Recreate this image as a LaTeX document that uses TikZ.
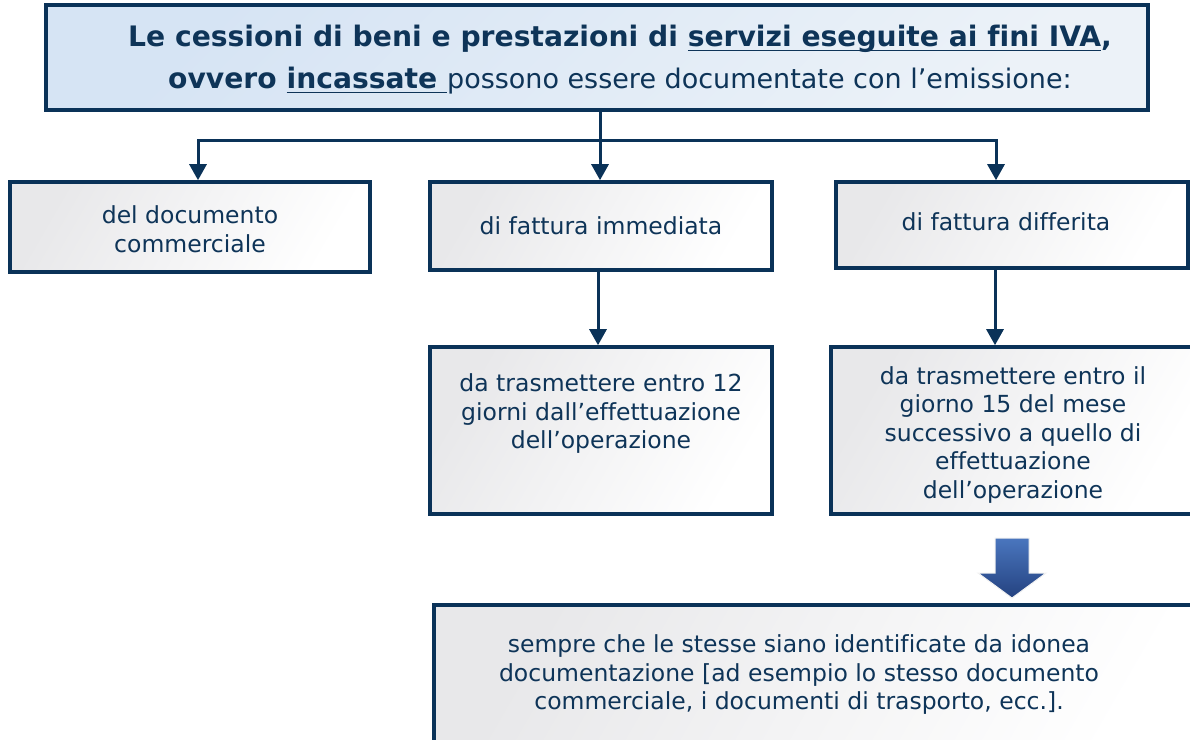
\documentclass[tikz,border=0pt]{standalone}
\usepackage{fontspec}
\setmainfont[Ligatures=NoCommon]{DejaVu Sans}
\usetikzlibrary{arrows.meta}
\definecolor{navy}{RGB}{10,50,88}
\definecolor{txt}{RGB}{14,52,88}
\definecolor{bluefill}{RGB}{214,228,244}
\definecolor{bluefill2}{RGB}{236,242,248}
\definecolor{grayfill}{RGB}{232,232,234}
\definecolor{arrtop}{RGB}{74,118,190}
\definecolor{arrbot}{RGB}{36,66,128}
\newcommand\myul[1]{\setbox0\hbox{#1}\rlap{\rule[-4.5pt]{\wd0}{1.8pt}}\box0}
\tikzset{
  box/.style={draw=navy, line width=3.6pt, shading=axis, left color=grayfill, right color=white, shading angle=60},
  topbox/.style={draw=navy, line width=3.6pt, shading=axis, left color=bluefill, right color=bluefill2, shading angle=45},
  lbl/.style={text=txt, align=center, font=\fontsize{23.5}{28.5}\selectfont},
  conn/.style={draw=navy, line width=3pt},
  arr/.style={conn, -{Triangle[length=16pt,width=17pt]}}
}
\begin{document}
\begin{tikzpicture}[x=1pt,y=-1pt]
\useasboundingbox (0,0) rectangle (1190,739);
\clip (0,0) rectangle (1190,739);
% top box
\node[topbox, minimum width=1102pt, minimum height=105pt, inner sep=0pt] (top) at (597,57.5) {};
\node[text=txt, align=center, font=\fontsize{27}{42}\selectfont] (title) at (620,60)
  {{\fontsize{28.2}{42}\selectfont\bfseries Le cessioni di beni e prestazioni di \myul{servizi eseguite ai fini IVA},}\\
   {\fontsize{28.2}{42}\selectfont\bfseries ovvero \myul{incassate\ }}possono essere documentate con l’emissione:};
% level 1 boxes
\node[box, minimum width=360pt, minimum height=90pt, inner sep=0pt] (b1) at (190,227) {};
\node[lbl] (t1) at (190,229) {del documento\\commerciale};
\node[box, minimum width=342pt, minimum height=88pt, inner sep=0pt] (b2) at (601,226) {};
\node[lbl] (t2) at (601,226) {di fattura immediata};
\node[box, minimum width=352pt, minimum height=86pt, inner sep=0pt] (b3) at (1012,225) {};
\node[lbl] (t3) at (1006,222) {di fattura differita};
% level 2 boxes
\node[box, minimum width=342pt, minimum height=167pt, inner sep=0pt] (b4) at (601,430.5) {};
\node[lbl] (t4) at (601,414) {da trasmettere entro 12\\giorni dall’effettuazione\\dell’operazione};
\node[box, minimum width=364pt, minimum height=167pt, inner sep=0pt] (b5) at (1013,430.5) {};
\node[lbl] (t5) at (1013,435) {da trasmettere entro il\\giorno 15 del mese\\successivo a quello di\\effettuazione\\dell’operazione};
% bottom box
\node[box, minimum width=780pt, minimum height=150pt, inner sep=0pt] (b6) at (824,680) {};
\node[lbl] (t6) at (799,675) {sempre che le stesse siano identificate da idonea\\documentazione [ad esempio lo stesso documento\\commerciale, i documenti di trasporto, ecc.].};
% connectors
\coordinate (j) at (600,140);
\coordinate (s3) at ([xshift=-17pt]b3.south);
\draw[conn] (top.south -| j) -- (j);
\draw[arr] (j) -| ([xshift=8pt]b1.north);
\draw[arr] (j) -- (b2.north -| j);
\draw[arr] (j) -| ([xshift=-16pt]b3.north);
\draw[arr] ([xshift=-3pt]b2.south) -- ([xshift=-3pt]b4.north);
\draw[arr] (s3) -- (b5.north -| s3);
% big arrow
\shade[top color=arrtop, bottom color=arrbot, draw=white!90!gray, line width=1pt]
  (995,538) -- (1029,538) -- (1029,573) -- (1046,573) -- (1012,598) -- (978,573) -- (995,573) -- cycle;
\end{tikzpicture}
\end{document}
